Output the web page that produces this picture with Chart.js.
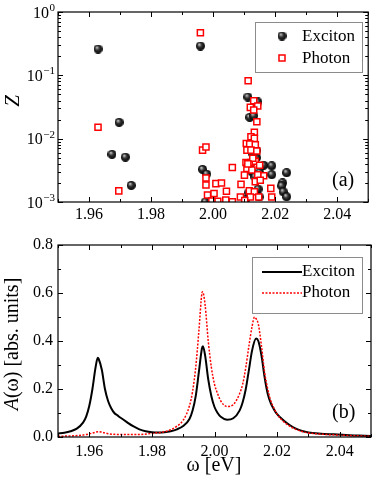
<!DOCTYPE html>
<html>
<head>
<meta charset="utf-8">
<script src="https://cdn.jsdelivr.net/npm/chart.js@4.4.1/dist/chart.umd.min.js"></script>
<style>
  html, body { margin: 0; padding: 0; background: #fff; }
  #wrap { position: relative; width: 374px; height: 486px; }
  .panel { position: absolute; left: 0; width: 374px; }
  #top { top: 0; height: 230px; }
  #bottom { top: 230px; height: 256px; }
</style>
</head>
<body>
<div id="wrap">
  <div class="panel" id="top"><canvas id="zChart"></canvas></div>
  <div class="panel" id="bottom"><canvas id="aChart"></canvas></div>
</div>
<script>
/* =========================
   DATA
========================= */

// panel (a): weights Z of the states
const excitonX = [1.9629, 1.9697, 1.9674, 1.9717, 1.9736, 1.9959, 1.9966, 1.9979, 1.9975,
  2.0112, 2.0144, 2.0118, 2.0131, 2.0140, 2.0163, 2.0189, 2.0189, 2.0237, 2.0224, 2.0221,
  2.0226, 2.0237, 2.0125, 2.0135, 2.0145, 2.0115, 2.0148, 2.0105, 2.0140, 2.0128, 2.0120, 2.0150];
const excitonZ = [0.26, 0.0181, 0.00565, 0.0051, 0.00183, 0.29, 0.00327, 0.00276, 0.00100,
  0.0454, 0.038, 0.0217, 0.023, 0.0050, 0.0038, 0.00373, 0.0027, 0.0029, 0.0020, 0.0018,
  0.00145, 0.00121, 0.0030, 0.0025, 0.0016, 0.0014, 0.0012, 0.0011, 0.0065, 0.0058, 0.0040, 0.0029];

const photonX = [1.9629, 1.9696, 1.9959, 2.0113, 2.0131, 2.0144, 2.0120, 2.0131, 2.0141, 2.0133,
  2.0122, 2.0133, 2.0107, 2.0118, 2.0136, 2.0109, 2.0122, 2.0141, 2.0106, 2.0122, 2.0136,
  2.0150, 2.0109, 2.0125, 2.0163, 2.0101, 2.0144, 2.0136, 2.0152, 2.0090, 2.0186, 2.0117,
  2.0133, 2.0088, 2.0120, 2.0147, 2.0189, 2.0102, 1.9966, 1.9977, 1.9977, 1.9977, 2.0009,
  2.0027, 2.0062, 1.9982, 2.0003, 2.0043, 2.0015, 1.9996, 2.0041, 2.0062, 2.0128, 2.0112];
const photonZ = [0.0151, 0.00150, 0.47, 0.082, 0.0398, 0.0327, 0.0312, 0.0283, 0.0185, 0.0126,
  0.0107, 0.0101, 0.0084, 0.0082, 0.0080, 0.0066, 0.0066, 0.0064, 0.0042, 0.0042, 0.0044,
  0.0038, 0.0034, 0.0032, 0.0026, 0.00266, 0.0027, 0.0021, 0.0022, 0.0019, 0.00164, 0.0015,
  0.00145, 0.0012, 0.0012, 0.0012, 0.0012, 0.00105, 0.0066, 0.0074, 0.0024, 0.00185, 0.00195,
  0.0020, 0.0035, 0.00129, 0.00136, 0.00148, 0.00103, 0.00104, 0.00107, 0.00101, 0.0049, 0.0040];

// panel (b): spectral functions
const excitonOmega = [1.950, 1.952, 1.954, 1.956, 1.958, 1.959, 1.960, 1.961, 1.962, 1.9627,
  1.963, 1.964, 1.965, 1.966, 1.967, 1.968, 1.969, 1.970, 1.972, 1.974, 1.976, 1.978, 1.980,
  1.982, 1.984, 1.986, 1.988, 1.990, 1.992, 1.993, 1.994, 1.995, 1.996, 1.9963, 1.997, 1.998,
  1.999, 2.000, 2.001, 2.002, 2.004, 2.006, 2.008, 2.009, 2.010, 2.011, 2.012, 2.0133, 2.014,
  2.015, 2.016, 2.017, 2.018, 2.019, 2.020, 2.022, 2.024, 2.026, 2.028, 2.030, 2.034, 2.038,
  2.042, 2.046, 2.050];
const excitonA = [0.015, 0.018, 0.024, 0.035, 0.060, 0.085, 0.13, 0.20, 0.29, 0.33,
  0.325, 0.28, 0.20, 0.15, 0.12, 0.10, 0.09, 0.08, 0.062, 0.045, 0.032, 0.024, 0.020,
  0.019, 0.020, 0.024, 0.032, 0.046, 0.075, 0.11, 0.17, 0.27, 0.37, 0.378, 0.34, 0.24,
  0.17, 0.125, 0.10, 0.084, 0.072, 0.078, 0.11, 0.145, 0.20, 0.28, 0.36, 0.41, 0.40,
  0.34, 0.25, 0.18, 0.14, 0.115, 0.095, 0.07, 0.05, 0.035, 0.025, 0.019, 0.014, 0.011,
  0.008, 0.006, 0.004];

const photonOmega = [1.950, 1.955, 1.958, 1.960, 1.962, 1.963, 1.964, 1.966, 1.968, 1.970,
  1.975, 1.980, 1.984, 1.986, 1.988, 1.990, 1.992, 1.993, 1.994, 1.995, 1.996, 1.9962, 1.997,
  1.998, 1.999, 2.000, 2.001, 2.002, 2.004, 2.006, 2.008, 2.009, 2.010, 2.011, 2.012, 2.0128,
  2.013, 2.014, 2.015, 2.016, 2.017, 2.018, 2.019, 2.020, 2.022, 2.024, 2.026, 2.028, 2.030,
  2.035, 2.040, 2.045, 2.050];
const photonA = [0.003, 0.005, 0.008, 0.013, 0.020, 0.022, 0.020, 0.014, 0.011, 0.010,
  0.010, 0.015, 0.022, 0.030, 0.045, 0.07, 0.13, 0.19, 0.29, 0.44, 0.60, 0.605, 0.55,
  0.40, 0.29, 0.22, 0.18, 0.15, 0.127, 0.135, 0.18, 0.22, 0.29, 0.38, 0.46, 0.50,
  0.498, 0.47, 0.38, 0.27, 0.20, 0.15, 0.12, 0.095, 0.065, 0.045, 0.032, 0.023, 0.017,
  0.011, 0.008, 0.005, 0.003];

// ticks
const xTicks = [1.96, 1.98, 2.00, 2.02, 2.04];
const xMinorTicks = [1.95, 1.97, 1.99, 2.01, 2.03, 2.05];
const zTicks = [1, 0.1, 0.01, 0.001];
const aTicks = [0, 0.2, 0.4, 0.6, 0.8];
const aMinorTicks = [0.1, 0.3, 0.5, 0.7];

/* =========================
   HELPERS
========================= */

const SERIF = "'Liberation Serif', 'Times New Roman', serif";
Chart.defaults.font.family = SERIF;
Chart.defaults.color = "#000";

function pairs(xs, ys) {
  return xs.map((x, i) => ({ x, y: ys[i] }));
}

function makeSphere(r) {
  const c = document.createElement("canvas");
  c.width = c.height = 2 * r;
  const g = c.getContext("2d");
  const grad = g.createRadialGradient(r * 0.7, r * 0.6, 0.3, r, r, r);
  grad.addColorStop(0, "#c8c8c8");
  grad.addColorStop(0.45, "#333");
  grad.addColorStop(1, "#000");
  g.fillStyle = grad;
  g.beginPath();
  g.arc(r, r, r, 0, Math.PI * 2);
  g.fill();
  return c;
}

const sphere = makeSphere(4.5);

function logMinors() {
  const out = [];
  for (let e = -3; e < 0; e++) {
    for (let m = 2; m <= 9; m++) out.push(m * Math.pow(10, e));
  }
  return out;
}

// frame with inward ticks on all four sides
function drawFrame(chart, yMajor, yMinor) {
  const { ctx, chartArea: a, scales } = chart;
  const xs = scales.x, ys = scales.y;
  ctx.save();
  ctx.strokeStyle = "#000";
  ctx.lineWidth = 1.2;
  ctx.strokeRect(a.left, a.top, a.right - a.left, a.bottom - a.top);
  ctx.lineWidth = 1;
  ctx.beginPath();
  const tx = (v, len) => {
    const p = Math.round(xs.getPixelForValue(v)) + 0.5;
    ctx.moveTo(p, a.bottom); ctx.lineTo(p, a.bottom - len);
    ctx.moveTo(p, a.top); ctx.lineTo(p, a.top + len);
  };
  const ty = (v, len) => {
    const p = Math.round(ys.getPixelForValue(v)) + 0.5;
    ctx.moveTo(a.left, p); ctx.lineTo(a.left + len, p);
    ctx.moveTo(a.right, p); ctx.lineTo(a.right - len, p);
  };
  xTicks.forEach(v => tx(v, 5));
  xMinorTicks.forEach(v => tx(v, 3));
  yMajor.forEach(v => ty(v, 5));
  yMinor.forEach(v => ty(v, 3));
  ctx.stroke();
  ctx.restore();
}

function legendBox(ctx, x, y, w, h) {
  ctx.save();
  ctx.fillStyle = "#fff";
  ctx.fillRect(x, y, w, h);
  ctx.strokeStyle = "#8c8c8c";
  ctx.lineWidth = 1;
  ctx.strokeRect(x + 0.5, y + 0.5, w, h);
  ctx.restore();
}

/* =========================
   PANEL (a)
========================= */

const topPlugin = {
  id: "topDecor",
  afterDraw(chart) {
    const { ctx, scales } = chart;
    drawFrame(chart, zTicks, logMinors());

    // log tick labels with superscripts
    ctx.save();
    ctx.fillStyle = "#000";
    ctx.textAlign = "right";
    ctx.textBaseline = "alphabetic";
    zTicks.forEach(v => {
      const py = scales.y.getPixelForValue(v);
      const exp = String(Math.round(Math.log10(v))).replace("-", "\u2212");
      ctx.font = "11px " + SERIF;
      const ew = ctx.measureText(exp).width;
      ctx.fillText(exp, 55, py - 1);
      ctx.font = "16px " + SERIF;
      ctx.fillText("10", 55 - ew - 0.5, py + 5.5);
    });

    // axis title
    ctx.font = "italic 21px " + SERIF;
    ctx.textAlign = "center";
    ctx.textBaseline = "middle";
    ctx.translate(13, 101);
    ctx.rotate(-Math.PI / 2);
    ctx.fillText("Z", 0, 0);
    ctx.restore();

    // legend
    legendBox(ctx, 255, 22, 107, 50);
    ctx.save();
    ctx.drawImage(sphere, 282 - 4.5, 36 - 4.5);
    ctx.strokeStyle = "#ff0000";
    ctx.lineWidth = 1.5;
    ctx.fillStyle = "#fff";
    ctx.fillRect(279, 55, 6, 6);
    ctx.strokeRect(279, 55, 6, 6);
    ctx.fillStyle = "#000";
    ctx.font = "17px " + SERIF;
    ctx.textAlign = "left";
    ctx.textBaseline = "middle";
    ctx.fillText("Exciton", 302, 37);
    ctx.fillText("Photon", 302, 59);
    ctx.font = "20px " + SERIF;
    ctx.fillText("(a)", 332, 181);
    ctx.restore();
  }
};

new Chart(document.getElementById("zChart"), {
  type: "scatter",
  data: {
    datasets: [
      {
        label: "Photon",
        data: pairs(photonX, photonZ),
        pointStyle: "rect",
        pointRadius: 4.3,
        borderColor: "#ff0000",
        backgroundColor: "#fff",
        borderWidth: 1.5,
        order: 0,
        clip: 0
      },
      {
        label: "Exciton",
        data: pairs(excitonX, excitonZ),
        pointStyle: sphere,
        pointRadius: 4.5,
        order: 1,
        clip: 0
      }
    ]
  },
  options: {
    responsive: true,
    maintainAspectRatio: false,
    animation: false,
    events: [],
    layout: { padding: { top: 12, right: 3, left: 0, bottom: 0 } },
    plugins: { legend: { display: false }, tooltip: { enabled: false } },
    scales: {
      x: {
        type: "linear",
        min: 1.95,
        max: 2.05,
        grid: { display: false, drawTicks: false },
        border: { display: false },
        afterBuildTicks: s => { s.ticks = xTicks.map(v => ({ value: v })); },
        afterFit: s => { s.height = 28; },
        ticks: {
          padding: 3,
          font: { size: 16 },
          callback: v => v.toFixed(2)
        }
      },
      y: {
        type: "logarithmic",
        min: 0.001,
        max: 1,
        grid: { display: false, drawTicks: false },
        border: { display: false },
        afterFit: s => { s.width = 58; },
        ticks: { display: false }
      }
    }
  },
  plugins: [topPlugin]
});

/* =========================
   PANEL (b)
========================= */

const bottomPlugin = {
  id: "bottomDecor",
  afterDraw(chart) {
    const { ctx } = chart;
    drawFrame(chart, aTicks, aMinorTicks);

    ctx.save();
    ctx.fillStyle = "#000";
    // y title: italic A, upright rest
    ctx.translate(13, 114);
    ctx.rotate(-Math.PI / 2);
    ctx.textBaseline = "middle";
    ctx.textAlign = "left";
    const rest = "(\u03c9) [abs. units]";
    ctx.font = "italic 20px " + SERIF;
    const wa = ctx.measureText("A").width;
    ctx.font = "20px " + SERIF;
    const wr = ctx.measureText(rest).width;
    const x0 = -(wa + wr) / 2;
    ctx.font = "italic 20px " + SERIF;
    ctx.fillText("A", x0, 0);
    ctx.font = "20px " + SERIF;
    ctx.fillText(rest, x0 + wa, 0);
    ctx.restore();

    ctx.save();
    ctx.fillStyle = "#000";
    ctx.font = "20px " + SERIF;
    ctx.textAlign = "center";
    ctx.textBaseline = "middle";
    ctx.fillText("\u03c9 [eV]", 214, 236);
    ctx.textAlign = "left";
    ctx.fillText("(b)", 332, 183);
    ctx.restore();

    // legend
    legendBox(ctx, 252, 27, 110, 56);
    ctx.save();
    ctx.strokeStyle = "#000";
    ctx.lineWidth = 2;
    ctx.beginPath();
    ctx.moveTo(262, 42); ctx.lineTo(302, 42);
    ctx.stroke();
    ctx.strokeStyle = "#ff0000";
    ctx.lineWidth = 1.5;
    ctx.setLineDash([2, 1.5]);
    ctx.beginPath();
    ctx.moveTo(262, 63); ctx.lineTo(302, 63);
    ctx.stroke();
    ctx.fillStyle = "#000";
    ctx.font = "17px " + SERIF;
    ctx.textBaseline = "middle";
    ctx.fillText("Exciton", 302, 42);
    ctx.fillText("Photon", 302, 63);
    ctx.restore();
  }
};

new Chart(document.getElementById("aChart"), {
  type: "line",
  data: {
    datasets: [
      {
        label: "Exciton",
        data: pairs(excitonOmega, excitonA),
        borderColor: "#000",
        borderWidth: 2,
        pointRadius: 0,
        cubicInterpolationMode: "monotone",
        order: 1
      },
      {
        label: "Photon",
        data: pairs(photonOmega, photonA),
        borderColor: "#ff0000",
        borderWidth: 1.5,
        borderDash: [2, 1.5],
        pointRadius: 0,
        cubicInterpolationMode: "monotone",
        order: 0
      }
    ]
  },
  options: {
    responsive: true,
    maintainAspectRatio: false,
    animation: false,
    events: [],
    layout: { padding: { top: 15, right: 3, left: 0, bottom: 0 } },
    plugins: { legend: { display: false }, tooltip: { enabled: false } },
    scales: {
      x: {
        type: "linear",
        min: 1.95,
        max: 2.05,
        grid: { display: false, drawTicks: false },
        border: { display: false },
        afterBuildTicks: s => { s.ticks = xTicks.map(v => ({ value: v })); },
        afterFit: s => { s.height = 49; },
        ticks: {
          padding: 5,
          font: { size: 16 },
          callback: v => v.toFixed(2)
        }
      },
      y: {
        type: "linear",
        min: 0,
        max: 0.8,
        grid: { display: false, drawTicks: false },
        border: { display: false },
        afterBuildTicks: s => { s.ticks = aTicks.map(v => ({ value: v })); },
        afterFit: s => { s.width = 58; },
        ticks: {
          padding: 5,
          font: { size: 16 },
          callback: v => v.toFixed(1)
        }
      }
    }
  },
  plugins: [bottomPlugin]
});
</script>
</body>
</html>
